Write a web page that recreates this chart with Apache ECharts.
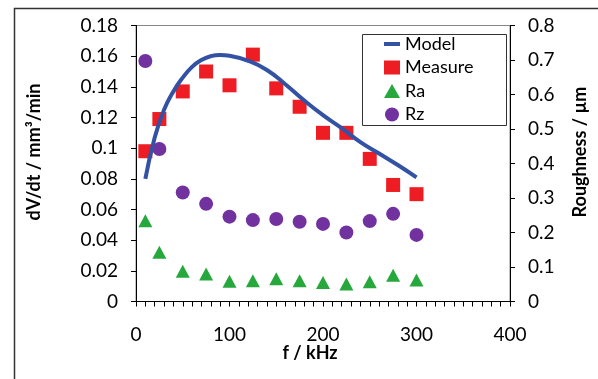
<!DOCTYPE html>
<html>
<head>
<meta charset="utf-8">
<script src="https://cdn.jsdelivr.net/npm/echarts@6/dist/echarts.min.js"></script>
<style>
  html, body { margin: 0; padding: 0; background: #fff; }
  #chart { width: 598px; height: 379px; }
</style>
</head>
<body>
<div id="chart"></div>
<script>
// frequency (kHz) of the measured points
const freq = [10, 25, 50, 75, 100, 125, 150, 175, 200, 225, 250, 275, 300];
// removal rate dV/dt (mm3/min)
const measure = [0.098, 0.119, 0.137, 0.150, 0.141, 0.161, 0.139, 0.127, 0.110, 0.110, 0.093, 0.076, 0.070];
// roughness (um)
const ra = [0.234, 0.143, 0.088, 0.080, 0.059, 0.060, 0.066, 0.060, 0.055, 0.051, 0.057, 0.076, 0.062];
const rz = [0.697, 0.442, 0.316, 0.283, 0.246, 0.236, 0.239, 0.231, 0.225, 0.200, 0.233, 0.254, 0.193];
// model curve
const modelFreq = [10, 20, 30, 40, 50, 60, 70, 80, 90, 100, 120, 140, 160, 180, 200, 220, 240, 260, 280, 300];
const modelRate = [0.080, 0.107, 0.125, 0.137, 0.146, 0.153, 0.1575, 0.160, 0.1608, 0.1603, 0.157, 0.151, 0.1415, 0.131, 0.1215, 0.113, 0.104, 0.0965, 0.089, 0.081];

const font = 'Lato, "Open Sans", sans-serif';
const pairs = (xs, ys) => xs.map((x, i) => [x, ys[i]]);

const chart = echarts.init(document.getElementById('chart'));

chart.setOption({
  animation: false,
  backgroundColor: '#fff',
  grid: {
    left: 136,
    right: 88,
    top: 25.5,
    bottom: 77.5,
    show: true,
    borderColor: '#888',
    borderWidth: 1,
  },
  legend: {
    orient: 'vertical',
    left: 382,
    top: 34,
    padding: 0,
    itemWidth: 16,
    itemHeight: 14,
    itemGap: 3.5,
    textStyle: { fontFamily: font, fontSize: 18, color: '#000', lineHeight: 20 },
    data: [
      { name: 'Model', itemStyle: { opacity: 0 }, lineStyle: { width: 4 } },
      'Measure',
      'Ra',
      'Rz',
    ],
  },
  xAxis: {
    type: 'value',
    min: 0,
    max: 400,
    interval: 100,
    splitLine: { show: false },
    axisLine: { lineStyle: { color: '#000', width: 1 } },
    axisTick: { length: 5, lineStyle: { color: '#000' } },
    minorTick: { show: true, splitNumber: 10, length: 5, lineStyle: { color: '#000' } },
    axisLabel: { color: '#000', fontFamily: font, fontSize: 19, margin: 24 },
  },
  yAxis: [
    {
      type: 'value',
      min: 0,
      max: 0.18,
      interval: 0.02,
      splitLine: { show: false },
      axisLine: { show: true, lineStyle: { color: '#000', width: 1 } },
      axisTick: { show: true, length: 5, lineStyle: { color: '#000' } },
      axisLabel: { color: '#000', fontFamily: font, fontSize: 19, margin: 18 },
    },
    {
      type: 'value',
      min: 0,
      max: 0.8,
      interval: 0.1,
      position: 'right',
      splitLine: { show: false },
      axisLine: { show: true, lineStyle: { color: '#000', width: 1 } },
      axisTick: { show: true, length: 5, lineStyle: { color: '#000' } },
      axisLabel: { color: '#000', fontFamily: font, fontSize: 19, margin: 18 },
    },
  ],
  series: [
    {
      name: 'Model',
      type: 'line',
      yAxisIndex: 0,
      smooth: true,
      symbol: 'none',
      lineStyle: { color: '#3452A4', width: 4 },
      itemStyle: { color: '#3452A4' },
      data: pairs(modelFreq, modelRate),
    },
    {
      name: 'Measure',
      type: 'scatter',
      yAxisIndex: 0,
      symbol: 'rect',
      symbolSize: 14,
      itemStyle: { color: '#EE1D23', opacity: 1 },
      data: pairs(freq, measure),
    },
    {
      name: 'Ra',
      type: 'scatter',
      yAxisIndex: 1,
      symbol: 'triangle',
      symbolSize: [14, 13],
      itemStyle: { color: '#27A83C', opacity: 1 },
      data: pairs(freq, ra),
    },
    {
      name: 'Rz',
      type: 'scatter',
      yAxisIndex: 1,
      symbol: 'circle',
      symbolSize: 14,
      itemStyle: { color: '#7132A0', opacity: 1 },
      data: pairs(freq, rz),
    },
  ],
  graphic: [
    // outer chart frame (only top and left edges fall inside the picture)
    {
      type: 'rect',
      left: 12,
      top: 6,
      shape: { width: 700, height: 500 },
      style: { fill: null, stroke: '#333', lineWidth: 1.5 },
      silent: true,
    },
    // legend box
    {
      type: 'rect',
      left: 360,
      top: 32,
      shape: { width: 144, height: 91 },
      style: { fill: null, stroke: '#333', lineWidth: 1 },
      silent: true,
      z: 10,
    },
    {
      type: 'text',
      x: 34,
      y: 152,
      rotation: Math.PI / 2,
      style: {
        text: 'dV/dt / mm³/min',
        font: 'bold 18px ' + font,
        fill: '#000',
        align: 'center',
        verticalAlign: 'middle',
      },
    },
    {
      type: 'text',
      x: 580,
      y: 152,
      rotation: Math.PI / 2,
      style: {
        text: 'Roughness / µm',
        font: 'bold 18px ' + font,
        fill: '#000',
        align: 'center',
        verticalAlign: 'middle',
      },
    },
    {
      type: 'text',
      x: 310,
      y: 353,
      style: {
        text: 'f / kHz',
        font: 'bold 18px ' + font,
        fill: '#000',
        align: 'center',
        verticalAlign: 'middle',
      },
    },
  ],
});
</script>
</body>
</html>
